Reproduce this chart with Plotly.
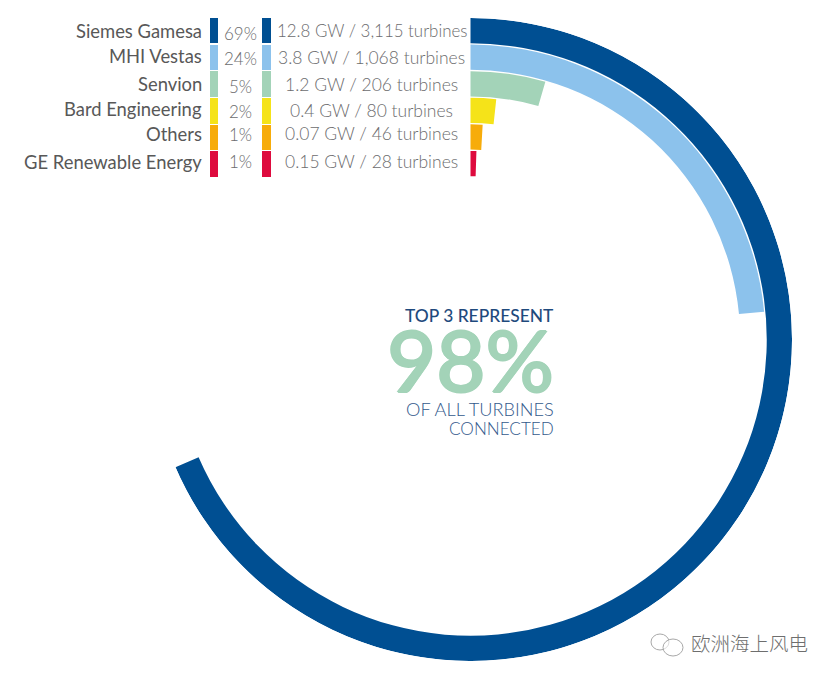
import plotly.graph_objects as go

W, H = 835, 677

makers = ["Siemes Gamesa", "MHI Vestas", "Senvion", "Bard Engineering", "Others", "GE Renewable Energy"]
share_labels = ["69%", "24%", "5%", "2%", "1%", "1%"]
capacity_labels = ["12.8 GW / 3,115 turbines", "3.8 GW / 1,068 turbines", "1.2 GW / 206 turbines",
                   "0.4 GW / 80 turbines", "0.07 GW / 46 turbines", "0.15 GW / 28 turbines"]
# arc length as drawn, in percent of the full circle
arc_percent = [68.5, 23.5, 4.5, 1.7, 0.9, 0.5]
colors = ["#004f92", "#8cc2ec", "#a3d3b8", "#f5e319", "#f7ac0a", "#de0b3e"]

TEXT = "#585858"
LIGHT = "#6c6c6e"
NAVY_TEXT = "#1f4a7d"
BLUE_TEXT = "#33598c"

CX, CY, R_OUT = 470.5, 339.5, 321.5
HOLE = 162 / 321.5
n = len(makers)

fig = go.Figure()
for i, (name, p, c) in enumerate(zip(makers, arc_percent, colors)):
    fig.add_trace(go.Barpolar(
        r=[0.95], base=[n - 1 - i + 0.05],
        theta=[p * 3.6 / 2], width=[p * 3.6],
        marker=dict(color=c, line=dict(width=0)),
        name=name, showlegend=False, hoverinfo="name",
    ))

row_top = [18, 45, 71, 98, 125, 151]
row_bot = [43, 70, 97, 124, 150, 177]
label_y = [31, 56, 84, 109, 134, 162]
pct_y = [34, 58, 86, 111, 135, 162]
detail_y = [31, 57, 84, 110, 134, 162]
detail_size = [16.9, 17.5, 17.5, 17.5, 17.5, 17.5]

px = lambda x: x / W
py = lambda y: 1 - y / H

shapes = []
annotations = []


def note(x, y, text, size, color, anchor="right", family="Lato", weight=400, shadow="none"):
    annotations.append(dict(
        xref="paper", yref="paper", x=px(x), y=py(y), text=text, showarrow=False,
        xanchor=anchor, yanchor="middle", align=anchor,
        font=dict(family=family, size=size, color=color, weight=weight, shadow=shadow),
        borderpad=0, borderwidth=0,
    ))


for i in range(n):
    for x0, x1 in ((210, 218), (262, 271)):
        shapes.append(dict(type="rect", xref="paper", yref="paper", x0=px(x0), x1=px(x1),
                           y0=py(row_bot[i]), y1=py(row_top[i]),
                           fillcolor=colors[i], line=dict(width=0)))
    note(201.5, label_y[i], makers[i], 18.4, TEXT)
    note(240, pct_y[i], share_labels[i], 17, LIGHT, anchor="center", weight=300)
    note(371.5, detail_y[i], capacity_labels[i], detail_size[i], LIGHT, anchor="center", weight=300)

note(554, 315, "TOP 3 REPRESENT", 17.4, NAVY_TEXT, weight=500)
thick = ",".join(f"{dx}px {dy}px 0 {colors[2]}" for dx, dy in ((1, 0), (-1, 0), (0, 1), (0, -1)))
note(553.5, 359, "98%", 85, colors[2], weight=500, shadow=thick)
note(554, 409, "OF ALL TURBINES", 18.2, BLUE_TEXT, weight=300)
note(554, 428, "CONNECTED", 17.1, BLUE_TEXT, weight=300)
note(749, 642, "欧洲海上风电", 19.5, "#6e6e6e", anchor="center", family="Noto Sans CJK SC", weight=300)

# WeChat-style watermark glyph
for x0, x1, y0, y1 in ((651, 669, 634, 650), (663, 683, 639, 656)):
    shapes.append(dict(type="circle", xref="paper", yref="paper", x0=px(x0), x1=px(x1),
                       y0=py(y1), y1=py(y0), line=dict(color="#a8a8a8", width=1),
                       fillcolor="rgba(255,255,255,0.6)"))

fig.update_layout(
    width=W, height=H,
    margin=dict(l=0, r=0, t=0, b=0),
    paper_bgcolor="white",
    showlegend=False,
    polar=dict(
        domain=dict(x=[px(CX - R_OUT), px(CX + R_OUT)], y=[py(CY + R_OUT), py(CY - R_OUT)]),
        bgcolor="rgba(0,0,0,0)",
        hole=HOLE,
        barmode="overlay",
        radialaxis=dict(range=[0, n], visible=False),
        angularaxis=dict(direction="clockwise", rotation=90, visible=False),
    ),
    shapes=shapes,
    annotations=annotations,
)

fig.write_html("out.html", config=dict(displayModeBar=False),
               post_script="document.body.style.margin='0';document.body.style.overflow='hidden';")
